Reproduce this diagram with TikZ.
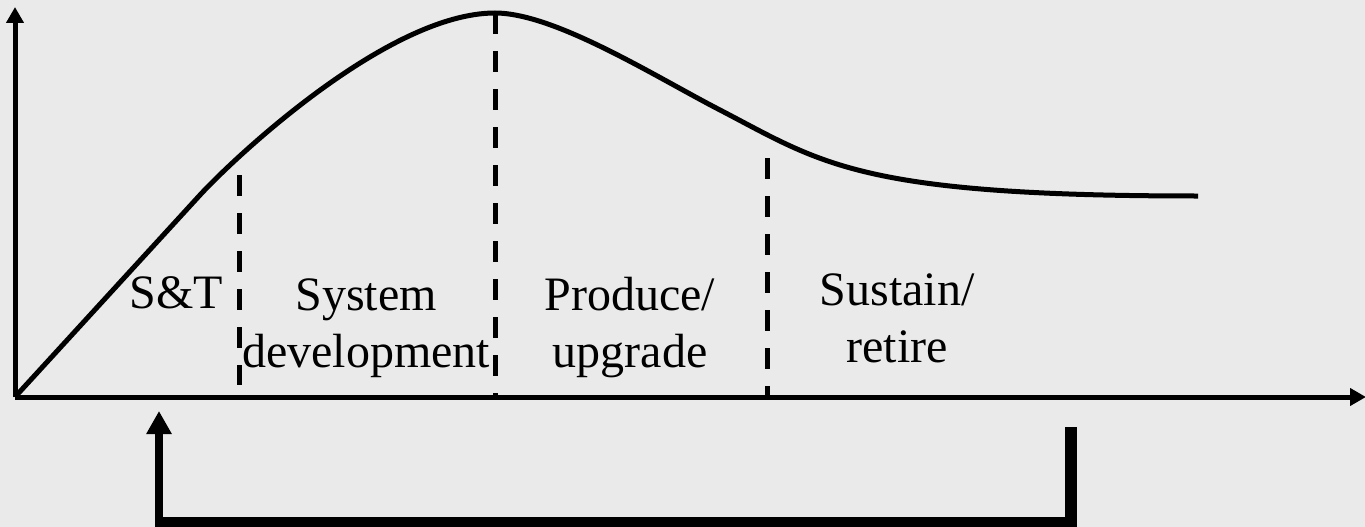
\documentclass[tikz,border=0pt]{standalone}
\usepackage{fontspec}
\setmainfont{Liberation Serif}
\usetikzlibrary{arrows.meta,calc}
\definecolor{bgc}{RGB}{234,234,234}
\tikzset{
  axis/.style={line width=5pt, -{Triangle[length=16pt,width=17pt]}},
  curveline/.style={line width=5pt, line join=round},
  phase/.style={line width=5pt, dash pattern=on 21pt off 17pt},
  lbl/.style={font=\fontsize{48}{57}\selectfont, inner sep=0pt, align=center, anchor=base},
  brk/.style={line width=10pt}
}
\begin{document}
\begin{tikzpicture}[x=1pt,y=-1pt]
\fill[bgc] (0,0) rectangle (1365,527);
\useasboundingbox (0,0) rectangle (1365,527);
% axes
\coordinate (O) at (15,397);
\coordinate (Ytop) at (15,7);
\coordinate (Xend) at (1366,397);
\draw[axis] (O) -- (Ytop);
\draw[axis] (O) -- (Xend);
% curve
\coordinate (c0) at (15,397);
\coordinate (c1) at (200,195);
\coordinate (peak) at (495,13);
\coordinate (infl) at (720,110);
\coordinate (cend) at (1198,196);
\draw[curveline] (c0) -- (c1)
  .. controls (234,158) and (388,13) .. (peak)
  .. controls (555,13) and (656,77) .. (infl)
  .. controls (822.6,163.3) and (858,196) .. (cend);
% phase separators
\coordinate (d1t) at (239,175); \coordinate (d1b) at (239,385);
\coordinate (d2t) at (495,13);  \coordinate (d2b) at (495,397);
\coordinate (d3t) at (767,158); \coordinate (d3b) at (767,397);
\draw[phase] (d1t) -- (d1b);
\draw[phase] (d2t) -- (d2b);
\draw[phase] (d3t) -- (d3b);
% labels
\node[lbl] (st) at (176,308) {S\&T};
\node[lbl] (sd) at (366,367) {System\\development};
\node[lbl] (pu) at (630,367) {Produce/\\upgrade};
\node[lbl] (sr) at (897,362) {Sustain/\\retire};
% bracket
\coordinate (bl) at (159,522);
\coordinate (bt) at (159,411);
\coordinate (br) at (1071,522);
\coordinate (brt) at (1071,427);
\draw[line width=8pt, -{Triangle[length=23pt,width=24pt]}] ($(bl)+(0,5)$) -- (bt);
\draw[brk] ($(bl)+(-4,0)$) -- ($(br)+(6,0)$);
\draw[line width=12pt] (brt) -- ($(br)+(0,5)$);
\end{tikzpicture}
\end{document}
